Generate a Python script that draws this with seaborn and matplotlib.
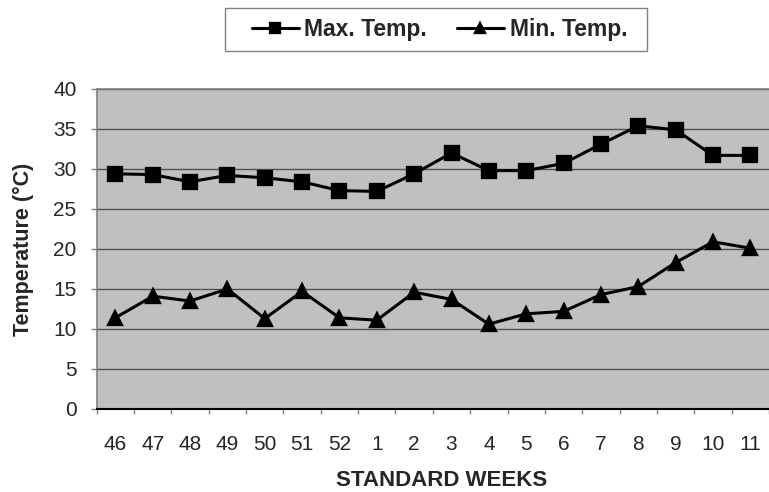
import pandas as pd
import seaborn as sns
import matplotlib.pyplot as plt
from matplotlib.patches import Rectangle
from matplotlib.ticker import MultipleLocator, FixedLocator

# Weekly temperatures
weeks = ['46', '47', '48', '49', '50', '51', '52', '1', '2', '3', '4', '5', '6', '7', '8', '9', '10', '11']
max_temp = [29.4, 29.3, 28.4, 29.2, 28.9, 28.4, 27.3, 27.2, 29.4, 32.0, 29.8, 29.8, 30.7, 33.1, 35.4, 34.9, 31.7, 31.7]
min_temp = [11.4, 14.1, 13.5, 15.0, 11.3, 14.7, 11.4, 11.1, 14.6, 13.7, 10.6, 11.9, 12.2, 14.3, 15.3, 18.3, 20.9, 20.1]
series = ['Max. Temp.', 'Min. Temp.']

# long format for seaborn
df = pd.concat([
    pd.DataFrame({'week': weeks, 'temp': max_temp, 'series': series[0]}),
    pd.DataFrame({'week': weeks, 'temp': min_temp, 'series': series[1]}),
], ignore_index=True)

sns.set_style('white')
plt.rcParams['font.family'] = ['Liberation Sans', 'DejaVu Sans']

W, H = 769, 492
fig = plt.figure(figsize=(W / 100, H / 100), dpi=100)
ax = fig.add_axes([96.7 / W, 83 / H, 672.3 / W, 320 / H])
ax.set_facecolor('#C0C0C0')

sns.pointplot(data=df, x='week', y='temp', hue='series', order=weeks, hue_order=series,
              markers=['s', '^'], linestyles=['-', '-'], palette=['black', 'black'],
              markersize=9.5, linewidth=2.2, ax=ax)

ax.set_ylim(0, 40)
ax.set_xlim(-0.5, len(weeks) - 0.5)
ax.yaxis.set_major_locator(MultipleLocator(5))
ax.grid(axis='y', color='#505050', linewidth=1)
ax.set_axisbelow(True)

# tick marks sit between the categories
ax.xaxis.set_minor_locator(FixedLocator([i - 0.5 for i in range(len(weeks) + 1)]))
ax.tick_params(axis='x', which='major', length=0, pad=19, labelsize=15)
ax.tick_params(axis='x', which='minor', bottom=True, length=3.6, width=1, color='#808080', direction='out')
ax.tick_params(axis='y', left=True, length=4.3, width=1, color='#808080', direction='out', pad=10.3, labelsize=15)

for side in ['top', 'left']:
    ax.spines[side].set_color('#808080')
    ax.spines[side].set_linewidth(1.2)
ax.spines['bottom'].set_color('black')
ax.spines['bottom'].set_linewidth(1.5)
ax.spines['right'].set_visible(False)

ax.set_xlabel('STANDARD WEEKS', fontsize=16, fontweight='bold', va='top')
ax.xaxis.set_label_coords(0.513, -0.19)
ax.set_ylabel('Temperature (°C)', fontsize=15.5, fontweight='bold')
ax.yaxis.set_label_coords(-0.093, 0.5)

handles, labels = ax.get_legend_handles_labels()
ax.get_legend().remove()
leg = fig.legend(handles, labels, loc='center', bbox_to_anchor=(439.5 / W, 1 - 29.5 / H), ncol=2,
                 prop={'weight': 'bold', 'size': 16.5}, frameon=False,
                 handlelength=2.05, handletextpad=0.25, columnspacing=1.3, markerscale=0.75)

# legend box drawn on its own, it is wider than the entries
fig.patches.append(Rectangle((225 / W, 1 - 51 / H), 422 / W, 43 / H, transform=fig.transFigure,
                             facecolor='none', edgecolor='#808080', linewidth=1))

plt.savefig('out.png', dpi=100)
